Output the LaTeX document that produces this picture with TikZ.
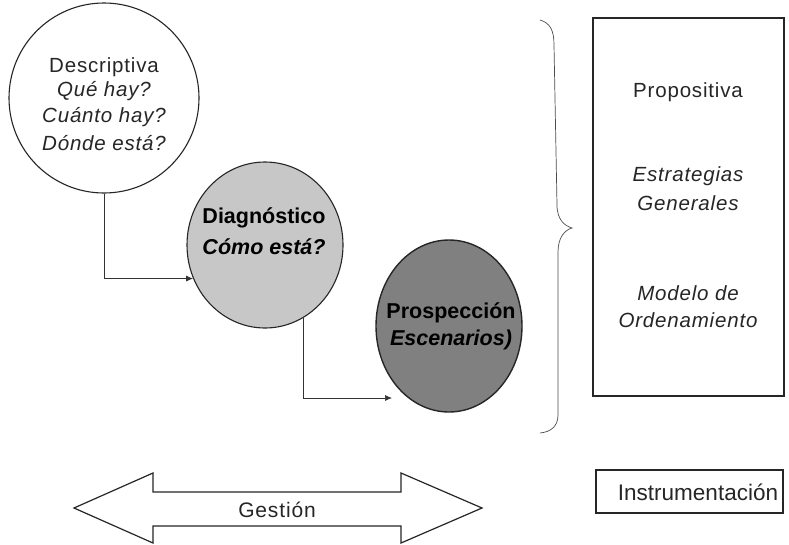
\documentclass[tikz,border=0pt]{standalone}
\usepackage{fontspec}
\setmainfont{Liberation Sans}
\newfontfamily\lsans[LetterSpace=4]{Liberation Sans}
\usetikzlibrary{shapes.geometric,arrows.meta}
\begin{document}
\begin{tikzpicture}[x=1pt,y=-1pt,
  ink/.style={draw=black!85},
  bubble/.style={ellipse,ink,line width=1.1pt,inner sep=0pt},
  conn/.style={draw=black!80,line width=0.7pt,-{Latex[length=7pt,width=6pt]}},
  txt/.style={font=\lsans\fontsize{20.5}{23}\selectfont,inner sep=0pt,text=black!85},
  itxt/.style={font=\lsans\itshape\fontsize{20.5}{23}\selectfont,inner sep=0pt,text=black!85},
  btxt/.style={font=\bfseries\fontsize{21.5}{23}\selectfont,inner sep=0pt},
  bitxt/.style={font=\bfseries\itshape\fontsize{21.5}{23}\selectfont,inner sep=0pt}]
\useasboundingbox (0,0) rectangle (789,544);
\fill[white] (0,0) rectangle (789,544);

% circles
\node[bubble,fill=white,minimum width=190pt,minimum height=190pt] (desc) at (104,98) {};
\node[bubble,fill=black!22,minimum width=156pt,minimum height=166pt] (diag) at (265,245) {};
\node[bubble,fill=black!50,line width=1.4pt,minimum width=146pt,minimum height=172pt] (prosp) at (449,326) {};

% circle texts
\node[txt]  (t1) at (104,67)  {Descriptiva};
\node[itxt] (t2) at (104,91)  {Qué hay?};
\node[itxt] (t3) at (104,117) {Cuánto hay?};
\node[itxt] (t4) at (104,143) {Dónde está?};
\node[btxt]  (t5) at (264,218) {Diagnóstico};
\node[bitxt] (t6) at (264,247) {Cómo está?};
\node[btxt]  (t7) at (451,313) {Prospección};
\node[bitxt] (t8) at (451,340) {Escenarios)};

% connectors
\coordinate (a2) at (392,398);
\draw[conn] (desc.south) |- (diag.205);
\draw[conn] (diag.298) |- (a2);

% brace
\draw[draw=black!70,line width=0.7pt] (540,20) .. controls (550,23) and (554,30) .. (554,45)
  -- (557,205) .. controls (557,220) and (565,226) .. (572,228)
  .. controls (565,230) and (558,237) .. (558,252)
  -- (558,415) .. controls (558,427) and (550,432) .. (540,433);

% right box
\node[ink,line width=1.4pt,minimum width=191pt,minimum height=378pt,inner sep=0pt] (prop) at (688.5,207) {};
\node[txt]  (p1) at (688,92)  {Propositiva};
\node[itxt] (p2) at (688,176) {Estrategias};
\node[itxt] (p3) at (688,203) {Generales};
\node[itxt] (p4) at (688,293) {Modelo de};
\node[itxt] (p5) at (688,320) {Ordenamiento};

% Gestion double arrow
\draw[ink,line width=1.2pt,fill=white,line join=miter]
  (74,508) -- (153,473) -- (153,492) -- (401,492) -- (401,473) -- (482,508)
  -- (401,543) -- (401,526) -- (153,526) -- (153,543) -- cycle;
\node[font=\lsans\fontsize{21}{24}\selectfont,inner sep=0pt,text=black!85] (g) at (277,510) {Gestión};

% Instrumentacion
\node[ink,line width=1.2pt,minimum width=187pt,minimum height=43pt,inner sep=0pt] (inst) at (689.5,491.5) {};
\node[font=\fontsize{22.5}{24}\selectfont,inner sep=0pt,text=black!85] (it) at (698,492) {Instrumentación};
\end{tikzpicture}
\end{document}
